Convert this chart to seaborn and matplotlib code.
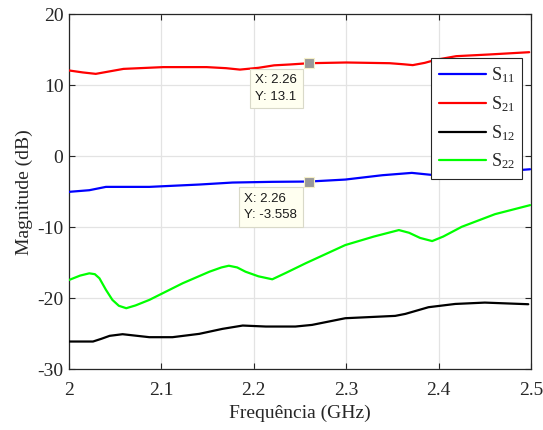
import numpy as np
import pandas as pd
import matplotlib
matplotlib.use("Agg")
import matplotlib.pyplot as plt
import seaborn as sns

# S-parameter magnitudes (dB) versus frequency (GHz)
freq_s11 = [2.000, 2.022, 2.040, 2.087, 2.141, 2.177, 2.220, 2.260, 2.299, 2.339, 2.371, 2.396, 2.450, 2.499]
mag_s11 = [-5.01, -4.78, -4.31, -4.31, -3.98, -3.70, -3.60, -3.558, -3.28, -2.67, -2.34, -2.67, -2.30, -1.83]

freq_s21 = [2.000, 2.015, 2.029, 2.044, 2.059, 2.102, 2.149, 2.170, 2.185, 2.205, 2.222, 2.239, 2.260, 2.300,
            2.347, 2.362, 2.372, 2.385, 2.397, 2.419, 2.455, 2.498]
mag_s21 = [12.08, 11.80, 11.60, 11.95, 12.30, 12.55, 12.55, 12.40, 12.20, 12.45, 12.80, 12.92, 13.10, 13.20,
           13.10, 12.95, 12.83, 13.15, 13.58, 14.09, 14.33, 14.65]

freq_s12 = [2.000, 2.026, 2.035, 2.044, 2.058, 2.087, 2.112, 2.141, 2.166, 2.188, 2.213, 2.245, 2.263, 2.299,
            2.353, 2.364, 2.389, 2.418, 2.450, 2.497]
mag_s12 = [-26.08, -26.08, -25.70, -25.28, -25.05, -25.47, -25.47, -25.00, -24.30, -23.83, -23.97, -23.97, -23.74,
           -22.80, -22.47, -22.19, -21.25, -20.79, -20.60, -20.83]

freq_s22 = [2.000, 2.012, 2.022, 2.028, 2.033, 2.040, 2.047, 2.054, 2.062, 2.072, 2.087, 2.123, 2.152, 2.165,
            2.173, 2.182, 2.191, 2.205, 2.220, 2.235, 2.256, 2.299, 2.330, 2.357, 2.368, 2.380, 2.393, 2.405,
            2.425, 2.461, 2.499]
mag_s22 = [-17.42, -16.80, -16.48, -16.60, -17.18, -18.80, -20.22, -21.05, -21.39, -21.00, -20.22, -17.88,
           -16.25, -15.65, -15.41, -15.65, -16.25, -16.90, -17.32, -16.40, -15.07, -12.50, -11.30, -10.39,
           -10.77, -11.50, -11.94, -11.30, -9.93, -8.15, -6.88]

series_names = ["S11", "S21", "S12", "S22"]
series_labels = [r"$\mathregular{S_{11}}$", r"$\mathregular{S_{21}}$",
                 r"$\mathregular{S_{12}}$", r"$\mathregular{S_{22}}$"]
series_colors = ["#0000ff", "#ff0000", "#000000", "#00ff00"]

# data-tip readouts
tip_x = [2.26, 2.26]
tip_y = [13.1, -3.558]
tip_text = ["X: 2.26\nY: 13.1", "X: 2.26\nY: -3.558"]

x_ticks = [2, 2.1, 2.2, 2.3, 2.4, 2.5]
x_tick_labels = ["2", "2.1", "2.2", "2.3", "2.4", "2.5"]
y_ticks = [-30, -20, -10, 0, 10, 20]

frames = []
for name, fx, my in zip(series_names,
                        [freq_s11, freq_s21, freq_s12, freq_s22],
                        [mag_s11, mag_s21, mag_s12, mag_s22]):
    frames.append(pd.DataFrame({"freq": fx, "mag": my, "param": name}))
df = pd.concat(frames, ignore_index=True)

sns.set_style("ticks")
plt.rcParams["font.family"] = ["Liberation Serif", "DejaVu Serif"]
plt.rcParams["mathtext.fontset"] = "custom"
plt.rcParams["mathtext.rm"] = "Liberation Serif"
plt.rcParams["mathtext.it"] = "Liberation Serif:italic"
plt.rcParams["axes.unicode_minus"] = False

fig = plt.figure(figsize=(5.43, 4.30), dpi=100)
ax = fig.add_axes([0.127, 0.141, 0.851, 0.826])

sns.lineplot(data=df, x="freq", y="mag", hue="param", hue_order=series_names,
             palette=dict(zip(series_names, series_colors)), sort=False,
             linewidth=1.6, ax=ax, legend=False, zorder=3)

ax.set_xlim(2, 2.5)
ax.set_ylim(-30, 20)
ax.set_xticks(x_ticks)
ax.set_xticklabels(x_tick_labels)
ax.set_yticks(y_ticks)
ax.grid(True, color="#e3e3e3", linewidth=0.9, zorder=0)
ax.set_axisbelow(True)
for side in ["left", "right", "top", "bottom"]:
    ax.spines[side].set_visible(True)
    ax.spines[side].set_color("#262626")
    ax.spines[side].set_linewidth(0.9)
ax.tick_params(direction="in", length=4, width=0.8, top=True, right=True,
               labelsize=14, colors="#262626", pad=4)
ax.tick_params(axis="x", pad=9)
ax.set_xlabel("Frequência (GHz)", fontsize=14, color="#262626", labelpad=4)
ax.set_ylabel("Magnitude (dB)", fontsize=14, color="#262626", labelpad=3)

# legend
handles = [plt.Line2D([], [], color=c, linewidth=1.6) for c in series_colors]
leg = ax.legend(handles, series_labels, loc="upper right", bbox_to_anchor=(0.981, 0.876),
                fontsize=13, frameon=True, fancybox=False, framealpha=1,
                edgecolor="#262626", handlelength=2.6, handletextpad=0.3,
                labelspacing=0.5, borderpad=0.4, borderaxespad=0)
leg.get_frame().set_linewidth(0.8)
leg.set_zorder(5)

# data tips
for tx, ty, txt in zip(tip_x, tip_y, tip_text):
    ax.plot([tx], [ty], marker="s", markersize=7, color="#999999",
            markeredgecolor="#f5f0c8", markeredgewidth=0.8, zorder=6, linestyle="none")
    ax.annotate(txt, xy=(tx, ty), xytext=(-12, -11), textcoords="offset pixels",
                ha="right", va="top", multialignment="left", fontsize=9.5,
                family=["Liberation Sans", "DejaVu Sans"],
                color="#1a1a1a", linespacing=1.55, zorder=6,
                bbox=dict(boxstyle="square,pad=0.4", facecolor="#fffff0",
                          edgecolor="#d9d9c8", linewidth=0.8))

fig.savefig("out.png", dpi=100)
